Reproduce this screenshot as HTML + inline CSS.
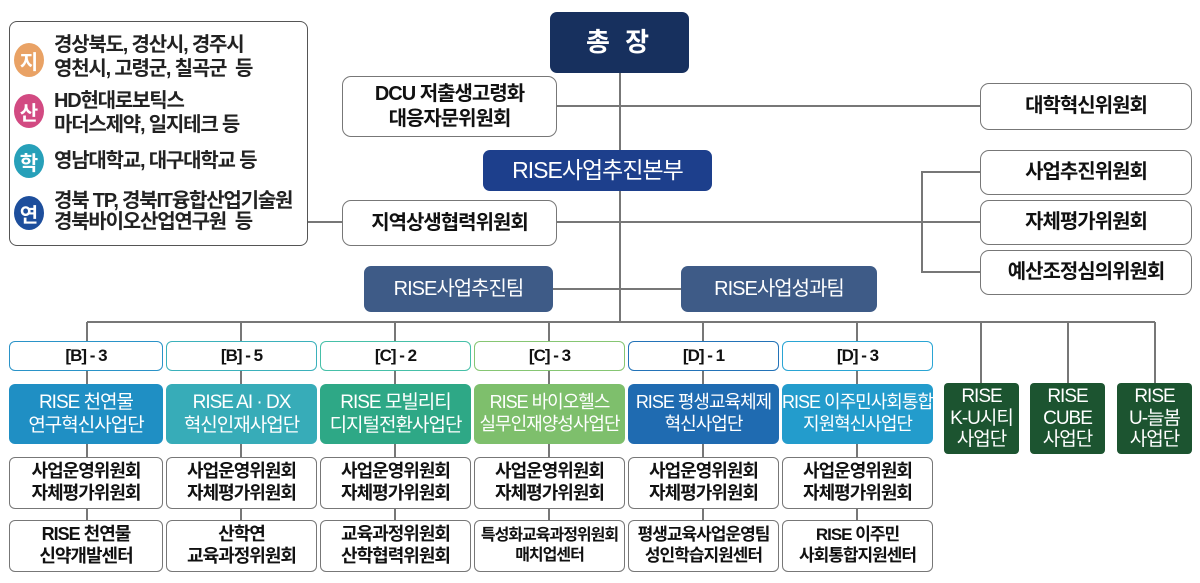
<!DOCTYPE html>
<html><head><meta charset="utf-8"><style>
body{margin:0;background:#fff;}
#c{position:relative;width:1200px;height:583px;overflow:hidden;font-family:"Liberation Sans","Noto Sans CJK KR",sans-serif;}
.b{position:absolute;box-sizing:border-box;display:flex;align-items:center;justify-content:center;text-align:center;line-height:1.22;letter-spacing:-1px;}
.w{background:#fff;border:1.5px solid #777;border-radius:9px;color:#111;font-size:20px;font-weight:bold;}
.d{color:#fff;border-radius:7px;font-weight:bold;}
.lb{background:#fff;border:1.5px solid;border-radius:6px;font-size:17px;font-weight:bold;color:#111;}
.cl{color:#fff;border-radius:6px;font-size:19px;font-weight:normal;}
.g{background:#1c5430;color:#fff;border-radius:4px;font-size:19px;line-height:1.15;}
.s{font-size:18px;border-radius:6px;}
.ic{position:absolute;width:30px;height:34px;border-radius:50%;color:#fff;font-weight:bold;font-size:20px;display:flex;align-items:center;justify-content:center;}
.t{position:absolute;font-size:20px;font-weight:bold;color:#222;letter-spacing:-1.2px;line-height:24px;white-space:nowrap;}
</style></head><body><div id="c">
<svg width="1200" height="583" style="position:absolute;left:0;top:0">
<g stroke="#777" stroke-width="2" fill="none">
<line x1="620" y1="72" x2="620" y2="322"/>
<line x1="557" y1="106" x2="980" y2="106"/>
<line x1="308" y1="222" x2="980" y2="222"/>
<polyline points="980,172 922,172 922,272 980,272"/>
<line x1="553" y1="289" x2="681" y2="289"/>
<line x1="87" y1="322" x2="1155" y2="322"/>
<line x1="87" y1="322" x2="87" y2="520"/>
<line x1="241" y1="322" x2="241" y2="520"/>
<line x1="395" y1="322" x2="395" y2="520"/>
<line x1="549" y1="322" x2="549" y2="520"/>
<line x1="703" y1="322" x2="703" y2="520"/>
<line x1="857" y1="322" x2="857" y2="520"/>
<line x1="981" y1="322" x2="981" y2="384"/>
<line x1="1068" y1="322" x2="1068" y2="384"/>
<line x1="1155" y1="322" x2="1155" y2="384"/>
</g></svg>

<div class="b w" style="left:9px;top:21px;width:299px;height:225px;border-radius:8px;border-color:#555"></div>
<div class="ic" style="left:14px;top:43px;background:#e9a265">지</div>
<div class="t" style="left:54px;top:33px">경상북도, 경산시, 경주시<br>영천시, 고령군, 칠곡군&nbsp; 등</div>
<div class="ic" style="left:14px;top:94px;background:#d24a82">산</div>
<div class="t" style="left:54px;top:89px">HD현대로보틱스<br>마더스제약, 일지테크 등</div>
<div class="ic" style="left:14px;top:144px;background:#27a0b9">학</div>
<div class="t" style="left:54px;top:149px">영남대학교, 대구대학교 등</div>
<div class="ic" style="left:14px;top:196px;background:#1d4e9c">연</div>
<div class="t" style="left:54px;top:191px;line-height:21px">경북 TP, 경북IT융합산업기술원<br>경북바이오산업연구원&nbsp; 등</div>

<div class="b d" style="left:550px;top:12px;width:139px;height:61px;background:#17305e;font-size:26px;letter-spacing:4px">총 장</div>
<div class="b w" style="left:342px;top:76px;width:215px;height:61px">DCU 저출생고령화<br>대응자문위원회</div>
<div class="b w" style="left:980px;top:83px;width:212px;height:47px">대학혁신위원회</div>
<div class="b d" style="left:483px;top:150px;width:229px;height:41px;background:#1d3f8c;font-size:23px;font-weight:normal">RISE사업추진본부</div>
<div class="b w" style="left:980px;top:150px;width:212px;height:45px">사업추진위원회</div>
<div class="b w" style="left:980px;top:200px;width:212px;height:45px">자체평가위원회</div>
<div class="b w" style="left:980px;top:250px;width:212px;height:45px">예산조정심의위원회</div>
<div class="b w" style="left:342px;top:200px;width:215px;height:46px">지역상생협력위원회</div>
<div class="b d" style="left:364px;top:266px;width:189px;height:46px;background:#3e5b87;font-size:20px;font-weight:normal">RISE사업추진팀</div>
<div class="b d" style="left:681px;top:266px;width:196px;height:46px;background:#3e5b87;font-size:20px;font-weight:normal">RISE사업성과팀</div>

<div class="b lb" style="left:9px;top:341px;width:154px;height:30px;border-color:#2a93c8">[B] - 3</div>
<div class="b lb" style="left:166px;top:341px;width:151px;height:30px;border-color:#3bb1bb">[B] - 5</div>
<div class="b lb" style="left:320px;top:341px;width:151px;height:30px;border-color:#46c0a8">[C] - 2</div>
<div class="b lb" style="left:474px;top:341px;width:151px;height:30px;border-color:#86c673">[C] - 3</div>
<div class="b lb" style="left:628px;top:341px;width:151px;height:30px;border-color:#2373b8">[D] - 1</div>
<div class="b lb" style="left:782px;top:341px;width:151px;height:30px;border-color:#2aa5d4">[D] - 3</div>

<div class="b cl" style="left:9px;top:384px;width:154px;height:60px;background:#1f8fc4">RISE 천연물<br>연구혁신사업단</div>
<div class="b cl" style="left:166px;top:384px;width:151px;height:60px;background:#37acb8">RISE AI · DX<br>혁신인재사업단</div>
<div class="b cl" style="left:320px;top:384px;width:151px;height:60px;background:#2ea886">RISE 모빌리티<br>디지털전환사업단</div>
<div class="b cl" style="left:474px;top:384px;width:151px;height:60px;background:#7ebf6c;font-size:18px">RISE 바이오헬스<br>실무인재양성사업단</div>
<div class="b cl" style="left:628px;top:384px;width:151px;height:60px;background:#1f6bb1;font-size:18px">RISE 평생교육체제<br>혁신사업단</div>
<div class="b cl" style="left:782px;top:384px;width:151px;height:60px;background:#239ccc;font-size:18px">RISE 이주민사회통합<br>지원혁신사업단</div>

<div class="b g" style="left:944px;top:383px;width:75px;height:71px">RISE<br>K-U시티<br>사업단</div>
<div class="b g" style="left:1030px;top:383px;width:75px;height:71px">RISE<br>CUBE<br>사업단</div>
<div class="b g" style="left:1117px;top:383px;width:75px;height:71px">RISE<br>U-늘봄<br>사업단</div>

<div class="b w s" style="left:9px;top:457px;width:154px;height:52px">사업운영위원회<br>자체평가위원회</div>
<div class="b w s" style="left:166px;top:457px;width:151px;height:52px">사업운영위원회<br>자체평가위원회</div>
<div class="b w s" style="left:320px;top:457px;width:151px;height:52px">사업운영위원회<br>자체평가위원회</div>
<div class="b w s" style="left:474px;top:457px;width:151px;height:52px">사업운영위원회<br>자체평가위원회</div>
<div class="b w s" style="left:628px;top:457px;width:151px;height:52px">사업운영위원회<br>자체평가위원회</div>
<div class="b w s" style="left:782px;top:457px;width:151px;height:52px">사업운영위원회<br>자체평가위원회</div>

<div class="b w s" style="left:9px;top:520px;width:154px;height:52px">RISE 천연물<br>신약개발센터</div>
<div class="b w s" style="left:166px;top:520px;width:151px;height:52px">산학연<br>교육과정위원회</div>
<div class="b w s" style="left:320px;top:520px;width:151px;height:52px">교육과정위원회<br>산학협력위원회</div>
<div class="b w s" style="left:474px;top:520px;width:151px;height:52px;font-size:16px">특성화교육과정위원회<br>매치업센터</div>
<div class="b w s" style="left:628px;top:520px;width:151px;height:52px;font-size:17px">평생교육사업운영팀<br>성인학습지원센터</div>
<div class="b w s" style="left:782px;top:520px;width:151px;height:52px;font-size:17px">RISE 이주민<br>사회통합지원센터</div>
</div></body></html>
